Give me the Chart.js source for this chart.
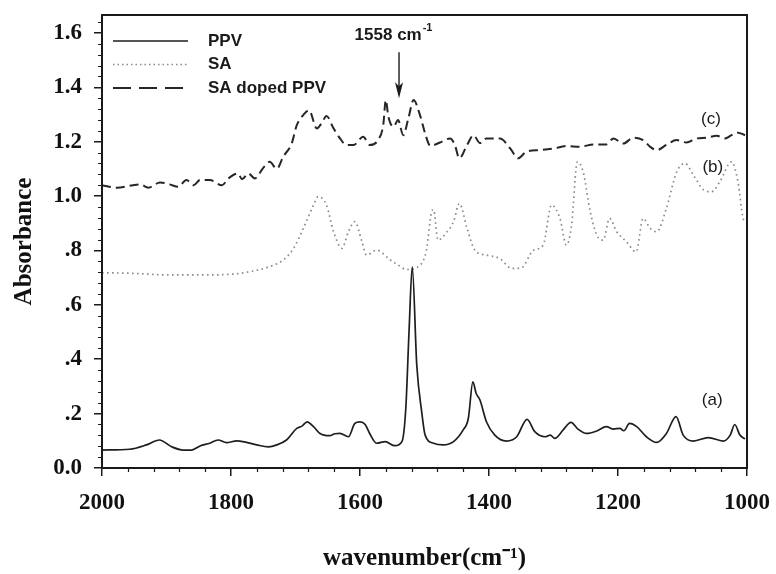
<!DOCTYPE html>
<html>
<head>
<meta charset="utf-8">
<script src="https://cdn.jsdelivr.net/npm/chart.js@4.4.1/dist/chart.umd.min.js"></script>
<style>
  html, body { margin: 0; padding: 0; background: #ffffff; }
  #wrap { width: 776px; height: 574px; }
</style>
</head>
<body>
<div id="wrap"><canvas id="chart" width="776" height="574"></canvas></div>
<script>
// ---------------- data ----------------
const seriesLabels = ['PPV', 'SA', 'SA doped PPV'];
const curveTags = ['(a)', '(b)', '(c)'];

const ppvWavenumber = [2000,1957,1931,1911,1892,1874,1861,1848,1833,1820,1807,1791,1776,1760,1742,1729,1714,1698,1690,1682,1672,1662,1647,1639,1631,1618,1608,1600,1592,1585,1574,1561,1546,1535,1529,1524,1519,1512,1504,1499,1486,1471,1455,1440,1432,1425,1420,1414,1404,1391,1373,1357,1341,1329,1313,1305,1298,1285,1273,1262,1249,1233,1218,1207,1197,1191,1182,1171,1156,1140,1125,1110,1099,1083,1060,1037,1026,1019,1011,1003];
const ppvAbsorbance = [0.066,0.069,0.085,0.103,0.078,0.066,0.066,0.081,0.091,0.103,0.093,0.100,0.094,0.085,0.078,0.085,0.103,0.146,0.154,0.170,0.152,0.127,0.119,0.126,0.127,0.115,0.164,0.170,0.160,0.127,0.091,0.097,0.082,0.097,0.219,0.500,0.740,0.379,0.200,0.121,0.091,0.085,0.097,0.140,0.183,0.317,0.275,0.250,0.170,0.121,0.099,0.115,0.179,0.134,0.115,0.121,0.109,0.140,0.168,0.143,0.127,0.136,0.152,0.143,0.146,0.137,0.164,0.152,0.115,0.094,0.127,0.189,0.121,0.099,0.112,0.099,0.121,0.160,0.121,0.107];

const saWavenumber = [2000,1952,1900,1848,1797,1771,1745,1719,1703,1688,1672,1665,1652,1641,1628,1618,1608,1597,1590,1574,1553,1540,1528,1507,1497,1489,1486,1479,1466,1455,1446,1434,1422,1404,1383,1365,1350,1331,1316,1303,1290,1280,1272,1263,1254,1243,1233,1223,1213,1202,1187,1172,1161,1150,1140,1125,1109,1096,1083,1067,1055,1042,1024,1014,1006,1002];
const saAbsorbance = [0.718,0.716,0.710,0.710,0.713,0.722,0.737,0.765,0.808,0.881,0.967,0.998,0.967,0.869,0.808,0.869,0.906,0.832,0.783,0.801,0.765,0.745,0.730,0.746,0.801,0.942,0.950,0.838,0.866,0.906,0.973,0.881,0.801,0.783,0.770,0.734,0.736,0.801,0.820,0.967,0.918,0.820,0.893,1.126,1.089,0.942,0.857,0.838,0.918,0.869,0.832,0.795,0.918,0.881,0.869,0.955,1.089,1.120,1.077,1.022,1.016,1.053,1.126,1.053,0.918,0.906];

const dopedWavenumber = [2000,1977,1941,1928,1910,1895,1882,1869,1858,1848,1833,1814,1804,1789,1783,1773,1763,1750,1740,1729,1719,1706,1698,1688,1679,1667,1659,1652,1641,1631,1621,1610,1595,1585,1572,1564,1560,1556,1548,1541,1533,1525,1517,1507,1499,1491,1476,1460,1453,1446,1434,1424,1414,1404,1383,1367,1355,1342,1321,1300,1280,1259,1238,1218,1207,1192,1176,1161,1150,1140,1125,1109,1094,1078,1062,1047,1034,1024,1014,1003];
const dopedAbsorbance = [1.040,1.031,1.043,1.031,1.050,1.043,1.034,1.059,1.040,1.059,1.059,1.040,1.065,1.083,1.062,1.083,1.065,1.104,1.126,1.100,1.145,1.193,1.261,1.298,1.316,1.249,1.270,1.295,1.249,1.212,1.188,1.188,1.218,1.188,1.206,1.261,1.353,1.292,1.255,1.280,1.224,1.286,1.353,1.298,1.230,1.185,1.197,1.212,1.188,1.139,1.188,1.224,1.195,1.212,1.212,1.175,1.139,1.163,1.169,1.175,1.184,1.181,1.190,1.190,1.212,1.193,1.215,1.206,1.181,1.169,1.188,1.206,1.197,1.212,1.215,1.222,1.212,1.224,1.233,1.224];

// axis settings
const xMin = 1000, xMax = 2000, xMajorStep = 200, xMinorStep = 40;
const yMin = 0, yMax = 1.666, yMajorStep = 0.2, yMinorStep = 0.04;

// annotations (data units)
const peakLabel = '1558 cm';
const peakLabelSup = '-1';
const peakLabelAt = [1548, 1.592];
const arrowAt = [1539.5, 1.529, 1.360];
const tagWavenumber = [1054, 1053, 1056];
const tagAbsorbance = [0.250, 1.107, 1.283];

// ---------------- build ----------------
function pts(xs, ys) { return xs.map((w, i) => ({ x: w, y: ys[i] })); }

const lineColor = '#1e1e1e';
const datasets = [
  { label: seriesLabels[0], data: pts(ppvWavenumber, ppvAbsorbance), borderColor: lineColor, borderWidth: 1.7, borderDash: [] },
  { label: seriesLabels[1], data: pts(saWavenumber, saAbsorbance), borderColor: '#8a8a8a', borderWidth: 1.7, borderDash: [1.6, 3.4] },
  { label: seriesLabels[2], data: pts(dopedWavenumber, dopedAbsorbance), borderColor: '#262626', borderWidth: 2, borderDash: [9, 5] }
].map(d => Object.assign(d, { pointRadius: 0, fill: false, cubicInterpolationMode: 'monotone', tension: 0.3 }));

const legendDash = [[], [1.5, 3], [18, 8]];

const decor = {
  id: 'decor',
  afterDraw(chart) {
    const { ctx, chartArea: a, scales: { x, y } } = chart;
    ctx.save();
    ctx.setLineDash([]);
    // frame
    ctx.strokeStyle = '#1a1a1a';
    ctx.lineWidth = 2;
    ctx.strokeRect(a.left, a.top, a.right - a.left, a.bottom - a.top);
    // minor ticks
    ctx.lineWidth = 1.2;
    ctx.beginPath();
    for (let i = 0; xMax - i * xMinorStep >= xMin; i++) {
      if (i % (xMajorStep / xMinorStep) === 0) continue;
      const px = Math.round(x.getPixelForValue(xMax - i * xMinorStep)) + 0.5;
      ctx.moveTo(px, a.bottom); ctx.lineTo(px, a.bottom + 4);
    }
    for (let i = 0; i * yMinorStep <= yMax; i++) {
      if (i % Math.round(yMajorStep / yMinorStep) === 0) continue;
      const py = Math.round(y.getPixelForValue(i * yMinorStep)) + 0.5;
      ctx.moveTo(a.left, py); ctx.lineTo(a.left - 4, py);
    }
    ctx.stroke();

    // legend
    const ds = chart.data.datasets;
    ctx.font = 'bold 17px "Liberation Sans", Arial, sans-serif';
    ctx.textBaseline = 'middle';
    ctx.textAlign = 'left';
    ds.forEach((d, i) => {
      const ly = a.top + 26 + i * 23.5;
      ctx.strokeStyle = d.borderColor;
      ctx.lineWidth = d.borderWidth;
      ctx.setLineDash(legendDash[i]);
      ctx.beginPath();
      ctx.moveTo(a.left + 11, ly); ctx.lineTo(a.left + 86, ly);
      ctx.stroke();
      ctx.setLineDash([]);
      ctx.fillStyle = '#1a1a1a';
      ctx.fillText(d.label, a.left + 106, ly);
    });

    // peak label with arrow
    ctx.fillStyle = '#1a1a1a';
    ctx.font = 'bold 17px "Liberation Sans", Arial, sans-serif';
    const w1 = ctx.measureText(peakLabel).width;
    ctx.font = 'bold 11px "Liberation Sans", Arial, sans-serif';
    const w2 = ctx.measureText(peakLabelSup).width;
    const cx = x.getPixelForValue(peakLabelAt[0]);
    const cy = y.getPixelForValue(peakLabelAt[1]);
    const sx = cx - (w1 + w2 + 1) / 2;
    ctx.font = 'bold 17px "Liberation Sans", Arial, sans-serif';
    ctx.fillText(peakLabel, sx, cy);
    ctx.font = 'bold 11px "Liberation Sans", Arial, sans-serif';
    ctx.fillText(peakLabelSup, sx + w1 + 1, cy - 7);

    const ax = x.getPixelForValue(arrowAt[0]);
    const ay0 = y.getPixelForValue(arrowAt[1]);
    const ay1 = y.getPixelForValue(arrowAt[2]);
    ctx.strokeStyle = '#1a1a1a';
    ctx.lineWidth = 1.4;
    ctx.beginPath();
    ctx.moveTo(ax, ay0); ctx.lineTo(ax, ay1 - 10);
    ctx.stroke();
    ctx.beginPath();
    ctx.moveTo(ax, ay1); ctx.lineTo(ax - 4, ay1 - 16); ctx.lineTo(ax, ay1 - 12); ctx.lineTo(ax + 4, ay1 - 16);
    ctx.closePath();
    ctx.fill();

    // curve tags
    ctx.font = '17px "Liberation Sans", Arial, sans-serif';
    ctx.textAlign = 'center';
    curveTags.forEach((t, i) => {
      ctx.fillText(t, x.getPixelForValue(tagWavenumber[i]), y.getPixelForValue(tagAbsorbance[i]));
    });
    ctx.restore();
  }
};

const serifTick = { family: '"Liberation Serif", "Times New Roman", serif', size: 23, weight: 'bold' };
const serifTitle = { family: '"Liberation Serif", "Times New Roman", serif', size: 25, weight: 'bold' };

new Chart(document.getElementById('chart'), {
  type: 'line',
  data: { datasets },
  options: {
    responsive: false,
    animation: false,
    devicePixelRatio: 1,
    layout: { padding: { left: 0, top: 15, right: 29, bottom: 0 } },
    plugins: { legend: { display: false }, tooltip: { enabled: false } },
    scales: {
      x: {
        type: 'linear', reverse: true, min: xMin, max: xMax,
        afterFit(s) { s.height = 106; s.paddingLeft = 0; s.paddingRight = 0; },
        ticks: { stepSize: xMajorStep, padding: 13, color: '#111', font: serifTick, callback: v => String(v), maxRotation: 0 },
        grid: { drawOnChartArea: false, drawTicks: true, tickLength: 8, color: '#1a1a1a', lineWidth: 1.5 },
        border: { display: true, color: '#1a1a1a', width: 2 },
        title: { display: true, text: 'wavenumber(cm\u207B\u00B9)', color: '#111', font: serifTitle, padding: { top: 0, bottom: 0 } }
      },
      y: {
        type: 'linear', min: yMin, max: yMax,
        afterFit(s) { s.width = 102; s.paddingTop = 0; s.paddingBottom = 0; },
        ticks: {
          stepSize: yMajorStep, includeBounds: false, padding: 12, color: '#111', font: serifTick,
          callback: v => { const r = Math.round(v * 10) / 10; if (r === 0) return '0.0'; const s = r.toFixed(1); return r < 1 ? s.replace(/^0/, '') : s; }
        },
        grid: { drawOnChartArea: false, drawTicks: true, tickLength: 8, color: '#1a1a1a', lineWidth: 1.5 },
        border: { display: true, color: '#1a1a1a', width: 2 },
        title: { display: true, text: 'Absorbance', color: '#111', font: serifTitle, padding: { top: 10, bottom: 0 } }
      }
    }
  },
  plugins: [decor]
});
</script>
</body>
</html>
